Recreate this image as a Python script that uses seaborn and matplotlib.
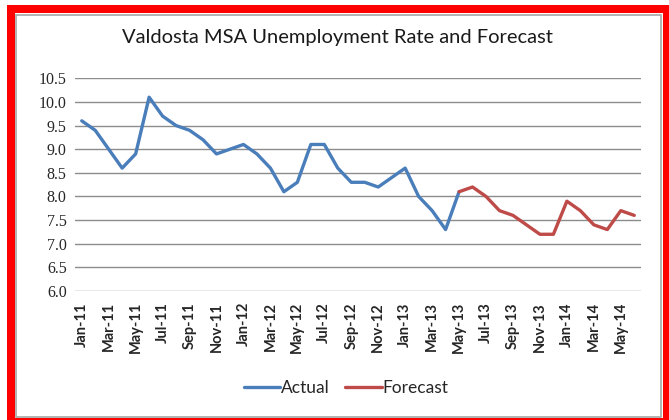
import numpy as np
import pandas as pd
import matplotlib
matplotlib.use("Agg")
import matplotlib.pyplot as plt
from matplotlib.patches import Rectangle
from matplotlib.lines import Line2D
import seaborn as sns

# Monthly labels, Jan-11 through Jun-14
months = ["Jan-11", "Feb-11", "Mar-11", "Apr-11", "May-11", "Jun-11", "Jul-11", "Aug-11",
          "Sep-11", "Oct-11", "Nov-11", "Dec-11",
          "Jan-12", "Feb-12", "Mar-12", "Apr-12", "May-12", "Jun-12", "Jul-12", "Aug-12",
          "Sep-12", "Oct-12", "Nov-12", "Dec-12",
          "Jan-13", "Feb-13", "Mar-13", "Apr-13", "May-13", "Jun-13", "Jul-13", "Aug-13",
          "Sep-13", "Oct-13", "Nov-13", "Dec-13",
          "Jan-14", "Feb-14", "Mar-14", "Apr-14", "May-14", "Jun-14"]

# Observed unemployment rate, Jan-11 .. May-13
actual = [9.6, 9.4, 9.0, 8.6, 8.9, 10.1, 9.7, 9.5, 9.4, 9.2, 8.9, 9.0,
          9.1, 8.9, 8.6, 8.1, 8.3, 9.1, 9.1, 8.6, 8.3, 8.3, 8.2, 8.4,
          8.6, 8.0, 7.7, 7.3, 8.1]

# Forecast, May-13 .. Jun-14
forecast = [8.1, 8.2, 8.0, 7.7, 7.6, 7.4, 7.2, 7.2, 7.9, 7.7, 7.4, 7.3, 7.7, 7.6]
forecast_start = "May-13"

y_ticks = [6.0, 6.5, 7.0, 7.5, 8.0, 8.5, 9.0, 9.5, 10.0, 10.5]

start = months.index(forecast_start)
df = pd.concat([
    pd.DataFrame({"pos": np.arange(len(actual)), "rate": actual, "series": "Actual"}),
    pd.DataFrame({"pos": np.arange(start, start + len(forecast)), "rate": forecast,
                  "series": "Forecast"}),
], ignore_index=True)

sns.set_theme(style="white")
plt.rcParams["font.family"] = ["Lato", "DejaVu Sans"]

W, H = 669, 420
fig = plt.figure(figsize=(W / 100, H / 100), dpi=100)
fig.patch.set_facecolor("white")


def px_rect(x0, y0, x1, y1, **kw):
    """Rectangle given in pixel coordinates measured from the top-left corner."""
    fig.patches.append(Rectangle((x0 / W, 1 - y1 / H), (x1 - x0) / W, (y1 - y0) / H,
                                 transform=fig.transFigure, **kw))


# red outer frame
red = "#ff0000"
px_rect(7, 5, W, 13, facecolor=red, edgecolor="none", zorder=0)
px_rect(7, 5, 15, H, facecolor=red, edgecolor="none", zorder=0)
px_rect(663, 5, W, H, facecolor=red, edgecolor="none", zorder=0)
px_rect(7, 418, W, H, facecolor=red, edgecolor="none", zorder=0)
# thin grey chart-area border
px_rect(16, 14.5, 661, 417, fill=False, edgecolor="#a6a6a6", linewidth=1.2, zorder=1)

ax = fig.add_axes([75 / W, (H - 291) / H, 566 / W, (291 - 78.3) / H])
ax.set_facecolor("none")

palette = {"Actual": "#4A7EBB", "Forecast": "#BE4B48"}
sns.lineplot(data=df, x="pos", y="rate", hue="series", palette=palette,
             linewidth=2.4, ax=ax, legend=False, zorder=3)

ax.set_xlim(-0.5, len(months) - 0.5)
ax.set_ylim(6.0, 10.5)
ax.set_yticks(y_ticks)
ax.set_yticklabels([f"{v:.1f}" for v in y_ticks], family=["Liberation Serif", "DejaVu Serif"],
                   fontsize=11.5)
ax.set_xticks(np.arange(0, len(months), 2))
ax.set_xticklabels(months[::2], rotation=90, fontsize=10.5, fontweight="bold")
ax.tick_params(axis="both", length=0, pad=6)
ax.tick_params(axis="x", pad=8)
ax.grid(axis="y", color="#8c8c8c", linewidth=1.0)
ax.set_axisbelow(True)
for s in ax.spines.values():
    s.set_visible(False)
ax.set_xlabel("")
ax.set_ylabel("")

fig.text(337 / W, 1 - 37 / H, "Valdosta MSA Unemployment Rate and Forecast",
         ha="center", va="center", fontsize=14.5, color="#1a1a1a")

handles = [Line2D([], [], color=palette[k], linewidth=2.4) for k in ["Actual", "Forecast"]]
fig.legend(handles, ["Actual", "Forecast"], loc="center", bbox_to_anchor=(346 / W, 1 - 388 / H),
           ncol=2, frameon=False, prop={"size": 12.5},
           handlelength=2.1, handletextpad=0.05, columnspacing=0.9)

fig.savefig("out.png", dpi=100)
